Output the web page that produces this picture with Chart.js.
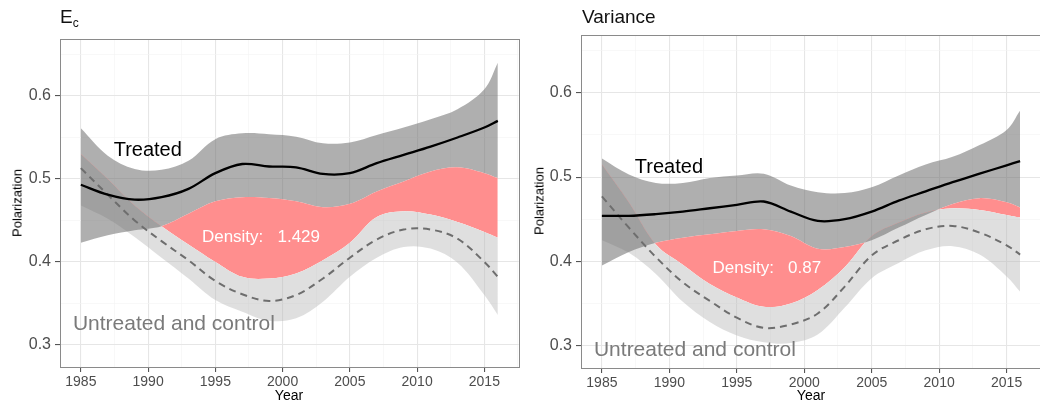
<!DOCTYPE html>
<html>
<head>
<meta charset="utf-8">
<script src="https://cdn.jsdelivr.net/npm/chart.js@4.4.1/dist/chart.umd.min.js"></script>
<style>
  html, body { margin: 0; padding: 0; background: #fff; overflow: hidden; width: 1040px; height: 405px;
    font-family: "Liberation Sans", Arial, Helvetica, sans-serif; }
  .panel { position: absolute; top: 0; height: 405px; }
  #wrapL { left: 0; width: 520px; }
  #wrapR { left: 520px; width: 530px; }
  .ttl { position: absolute; top: 6px; font-size: 19px; color: #111; white-space: nowrap; }
  .ttl sub { font-size: 12px; vertical-align: -4px; }
  .ylab { position: absolute; font-size: 13px; color: #000; white-space: nowrap; transform: translate(-50%, -50%) rotate(-90deg); }
  .xlab { position: absolute; top: 387px; font-size: 14px; color: #000; transform: translateX(-50%); }
</style>
</head>
<body>
<div class="panel" id="wrapL"><canvas id="cL" width="520" height="405"></canvas></div>
<div class="panel" id="wrapR"><canvas id="cR" width="530" height="405"></canvas></div>
<div class="ttl" style="left:60px;">E<sub>c</sub></div>
<div class="ttl" style="left:582px;">Variance</div>
<div class="ylab" style="left:17px;top:203px;">Polarization</div>
<div class="ylab" style="left:539px;top:201px;">Polarization</div>
<div class="xlab" style="left:289px;">Year</div>
<div class="xlab" style="left:811px;">Year</div>
<script>
'use strict';
// Two smoothed-trend panels: treated vs untreated/control, ribbons are CIs,
// red = gap between treated lower CI and control upper CI.

const years = [1985, 1987, 1989, 1991, 1993, 1995, 1997, 1999, 2001, 2003, 2005, 2007, 2009, 2011, 2013, 2015, 2016];

// E_c panel
const ecTreated   = [0.493, 0.481, 0.475, 0.478, 0.488, 0.507, 0.518, 0.515, 0.514, 0.506, 0.507, 0.519, 0.529, 0.539, 0.550, 0.562, 0.570];
const ecTreatedHi = [0.561, 0.528, 0.512, 0.511, 0.522, 0.548, 0.555, 0.554, 0.551, 0.543, 0.544, 0.553, 0.562, 0.572, 0.584, 0.608, 0.640];
const ecTreatedLo = [0.423, 0.432, 0.438, 0.443, 0.458, 0.473, 0.478, 0.477, 0.473, 0.466, 0.470, 0.485, 0.497, 0.509, 0.514, 0.507, 0.501];
const ecControl   = [0.513, 0.481, 0.450, 0.425, 0.402, 0.377, 0.361, 0.353, 0.360, 0.380, 0.405, 0.427, 0.439, 0.439, 0.428, 0.400, 0.382];
const ecControlHi = [0.530, 0.500, 0.468, 0.443, 0.421, 0.400, 0.382, 0.380, 0.386, 0.402, 0.423, 0.454, 0.461, 0.457, 0.448, 0.436, 0.429];
const ecControlLo = [0.468, 0.452, 0.430, 0.405, 0.380, 0.354, 0.340, 0.329, 0.332, 0.352, 0.382, 0.405, 0.418, 0.416, 0.399, 0.360, 0.336];
const ecDensity = '1.429';

// Variance panel
const varTreated   = [0.454, 0.454, 0.456, 0.459, 0.463, 0.467, 0.471, 0.459, 0.448, 0.450, 0.459, 0.472, 0.483, 0.494, 0.504, 0.514, 0.519];
const varTreatedHi = [0.522, 0.503, 0.493, 0.493, 0.499, 0.502, 0.504, 0.490, 0.482, 0.481, 0.488, 0.502, 0.515, 0.524, 0.538, 0.556, 0.579];
const varTreatedLo = [0.395, 0.411, 0.422, 0.428, 0.432, 0.436, 0.438, 0.430, 0.415, 0.417, 0.425, 0.440, 0.455, 0.468, 0.475, 0.470, 0.464];
const varControl   = [0.477, 0.440, 0.405, 0.375, 0.353, 0.333, 0.321, 0.325, 0.338, 0.370, 0.407, 0.425, 0.438, 0.442, 0.434, 0.419, 0.408];
const varControlHi = [0.515, 0.470, 0.420, 0.396, 0.373, 0.357, 0.346, 0.350, 0.366, 0.393, 0.430, 0.446, 0.458, 0.463, 0.461, 0.455, 0.452];
const varControlLo = [0.425, 0.410, 0.385, 0.352, 0.328, 0.312, 0.304, 0.303, 0.313, 0.345, 0.380, 0.398, 0.413, 0.418, 0.408, 0.382, 0.364];
const varDensity = '0.87';

// axes
const xMajor = [1985, 1990, 1995, 2000, 2005, 2010, 2015];
const xMinor = [1987.5, 1992.5, 1997.5, 2002.5, 2007.5, 2012.5, 2017.5];
const yMajor = [0.3, 0.4, 0.5, 0.6];
const yMinor = [0.35, 0.45, 0.55, 0.65];
const X_MIN = 1983.45, X_MAX = 2017.55, Y_MIN = 0.2733, Y_MAX = 0.6687;

const FONT = '"Liberation Sans", Arial, Helvetica, sans-serif';
const pts = (arr) => years.map((x, i) => ({ x: x, y: arr[i] }));
const isMaj = (list, v) => list.some((m) => Math.abs(m - v) < 1e-6);

// text labels anchored in data coordinates
const notesPlugin = {
  id: 'notes',
  afterDatasetsDraw(chart, args, opts) {
    const { ctx, scales } = chart;
    ctx.save();
    (opts.items || []).forEach((n) => {
      ctx.font = n.size + 'px ' + FONT;
      ctx.fillStyle = n.color;
      ctx.textAlign = 'left';
      ctx.textBaseline = 'middle';
      ctx.fillText(n.text, scales.x.getPixelForValue(n.x), scales.y.getPixelForValue(n.y));
    });
    // panel border
    const a = chart.chartArea;
    ctx.strokeStyle = '#8a8a8a';
    ctx.lineWidth = 1;
    ctx.strokeRect(Math.round(a.left) + 0.5, Math.round(a.top) + 0.5, Math.round(a.right - a.left), Math.round(a.bottom - a.top));
    ctx.restore();
  }
};

function makePanel(id, s, area, notes) {
  const cv = document.getElementById(id);
  const W = cv.width, H = cv.height;
  const TENSION = 0.35;
  const band = (data, fill, bg, order) => ({
    data: pts(data), fill: fill, backgroundColor: bg, borderColor: 'transparent', borderWidth: 0,
    pointRadius: 0, tension: TENSION, order: order
  });
  const datasets = [
    { data: pts(s.treated), borderColor: '#000', borderWidth: 2.3, pointRadius: 0, fill: false,
      tension: TENSION, order: 0 },
    { data: pts(s.control), borderColor: '#6e6e6e', borderWidth: 2, borderDash: [7, 5], pointRadius: 0, fill: false,
      tension: TENSION, order: 1 },
    band(s.treatedLo, { target: 4, above: '#ff8e8e', below: 'rgba(0,0,0,0)' }, 'rgba(0,0,0,0)', 2),
    band(s.treatedHi, 2, 'rgba(110,110,110,0.55)', 3),
    band(s.controlHi, 5, 'rgba(185,185,185,0.45)', 4),
    band(s.controlLo, false, 'rgba(0,0,0,0)', 5)
  ];
  const grid = (majors, tickOn) => ({
    color: (c) => (c.tick && isMaj(majors, c.tick.value)) ? '#e6e6e6' : '#f3f3f3',
    lineWidth: (c) => (c.tick && isMaj(majors, c.tick.value)) ? 1.1 : 0.6,
    tickColor: (c) => (c.tick && isMaj(majors, c.tick.value)) ? '#555' : 'rgba(0,0,0,0)',
    tickLength: 5, drawTicks: tickOn
  });
  return new Chart(cv.getContext('2d'), {
    type: 'line',
    data: { datasets: datasets },
    options: {
      responsive: false, animation: false, devicePixelRatio: 1,
      layout: { padding: { left: 0, top: area.top, right: W - area.right, bottom: 0 } },
      plugins: { legend: { display: false }, tooltip: { enabled: false }, title: { display: false },
        notes: { items: notes } },
      scales: {
        x: {
          type: 'linear', min: X_MIN, max: X_MAX,
          afterBuildTicks: (sc) => { sc.ticks = xMajor.concat(xMinor).sort((a, b) => a - b).map((v) => ({ value: v })); },
          afterFit: (sc) => { sc.height = H - area.bottom; },
          ticks: { autoSkip: false, maxRotation: 0, padding: 2, color: '#4d4d4d', font: { size: 14, family: FONT },
            callback: (v) => isMaj(xMajor, v) ? String(v) : '' },
          grid: grid(xMajor, true),
          border: { display: false }
        },
        y: {
          min: Y_MIN, max: Y_MAX,
          afterBuildTicks: (sc) => { sc.ticks = yMajor.concat(yMinor).sort((a, b) => a - b).map((v) => ({ value: v })); },
          afterFit: (sc) => { sc.width = area.left; },
          ticks: { autoSkip: false, padding: 4, color: '#4d4d4d', font: { size: 16, family: FONT },
            callback: (v) => isMaj(yMajor, v) ? v.toFixed(1) : '' },
          grid: grid(yMajor, true),
          border: { display: false }
        }
      }
    },
    plugins: [notesPlugin]
  });
}

makePanel('cL', {
  treated: ecTreated, treatedHi: ecTreatedHi, treatedLo: ecTreatedLo,
  control: ecControl, controlHi: ecControlHi, controlLo: ecControlLo
}, { left: 60, top: 39, right: 519, bottom: 367 }, [
  { text: 'Treated', x: 1987.44, y: 0.534, size: 20, color: '#000' },
  { text: 'Density:   ' + ecDensity, x: 1994.0, y: 0.430, size: 17, color: '#fff' },
  { text: 'Untreated and control', x: 1984.41, y: 0.325, size: 21, color: '#7a7a7a' }
]);

makePanel('cR', {
  treated: varTreated, treatedHi: varTreatedHi, treatedLo: varTreatedLo,
  control: varControl, controlHi: varControlHi, controlLo: varControlLo
}, { left: 61, top: 35, right: 521, bottom: 368 }, [
  { text: 'Treated', x: 1987.44, y: 0.511, size: 20, color: '#000' },
  { text: 'Density:   ' + varDensity, x: 1993.2, y: 0.392, size: 17, color: '#fff' },
  { text: 'Untreated and control', x: 1984.41, y: 0.295, size: 21, color: '#7a7a7a' }
]);
</script>
</body>
</html>
